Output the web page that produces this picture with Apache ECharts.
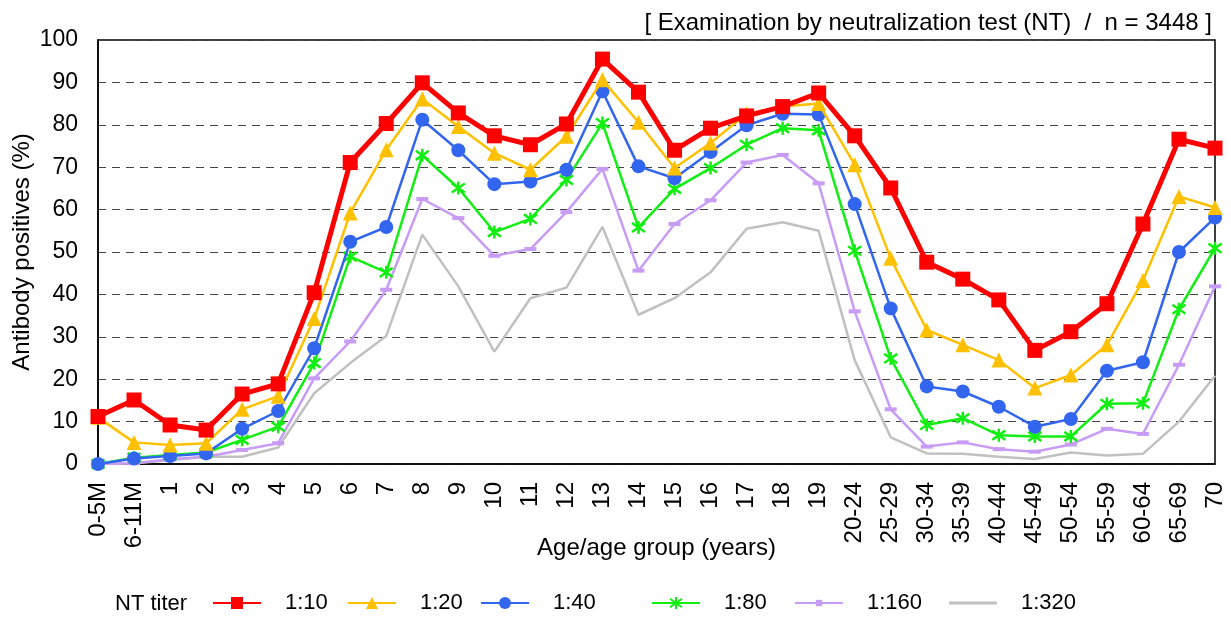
<!DOCTYPE html>
<html>
<head>
<meta charset="utf-8">
<script src="https://cdn.jsdelivr.net/npm/echarts@6/dist/echarts.min.js"></script>
<style>
html, body { margin: 0; padding: 0; background: #fff; }
#chart { width: 1231px; height: 622px; }
</style>
</head>
<body>
<div id="chart"></div>
<script>
var categorias = ['0-5M', '6-11M', '1', '2', '3', '4', '5', '6', '7', '8', '9', '10', '11', '12', '13', '14', '15', '16', '17', '18', '19',
    '20-24', '25-29', '30-34', '35-39', '40-44', '45-49', '50-54', '55-59', '60-64', '65-69', '70'];

var t10 = [11.2, 15.1, 9.2, 8.0, 16.5, 18.9, 40.4, 71.1, 80.3, 89.9, 82.8, 77.4, 75.3, 80.2, 95.5, 87.7, 74.0, 79.2, 82.1, 84.3, 87.5,
    77.4, 65.1, 47.6, 43.6, 38.7, 26.8, 31.2, 37.8, 56.6, 76.6, 74.5];
var t20 = [11.0, 5.1, 4.5, 4.9, 12.9, 16.0, 34.3, 59.2, 74.1, 86.1, 79.6, 73.3, 69.4, 77.3, 90.6, 80.6, 69.8, 75.7, 82.6, 84.3, 85.0,
    70.6, 48.5, 31.6, 28.1, 24.5, 17.9, 21.0, 28.1, 43.3, 63.1, 60.5];
var t40 = [0, 1.3, 1.9, 2.5, 8.3, 12.5, 27.3, 52.4, 55.9, 81.2, 74.0, 66.0, 66.6, 69.4, 87.9, 70.2, 67.4, 73.6, 79.9, 82.6, 82.4,
    61.3, 36.7, 18.3, 17.1, 13.5, 8.8, 10.6, 22.0, 24.0, 50.0, 58.1];
var t80 = [0, 1.5, 2.1, 2.7, 5.7, 8.8, 23.8, 48.9, 45.2, 72.8, 65.1, 54.7, 57.8, 67.0, 80.4, 55.8, 64.9, 69.8, 75.3, 79.2, 78.7,
    50.3, 24.9, 9.2, 10.8, 6.8, 6.5, 6.5, 14.2, 14.3, 36.5, 50.9];
var t160 = [0, 0.2, 1.1, 1.7, 3.3, 4.9, 20.2, 28.9, 41.1, 62.5, 58.0, 49.1, 50.7, 59.4, 69.6, 45.6, 56.6, 62.2, 71.1, 72.9, 66.2,
    36.0, 12.9, 4.1, 5.1, 3.5, 2.9, 4.6, 8.3, 7.1, 23.4, 41.9];
var t320 = [0, 0.2, 0.9, 1.7, 1.7, 3.9, 16.7, 23.8, 30.2, 54.1, 41.9, 26.5, 39.1, 41.6, 55.9, 35.2, 39.1, 45.2, 55.5, 57.0, 55.0,
    24.5, 6.3, 2.5, 2.4, 1.7, 1.2, 2.7, 2.0, 2.4, 10.0, 20.8];

var titulos = ['1:10', '1:20', '1:40', '1:80', '1:160', '1:320'];

var FUENTE = '"Liberation Sans", Arial, sans-serif';
var ASTERISCO = 'path://M0,-10 L0,10 M-7,-7 L7,7 M-7,7 L7,-7';

// posicion x de cada icono de la leyenda
var posLeyenda = [212, 347, 480, 651, 794, 949];

function serie(nombre, datos, color, ancho, simbolo, tam, extra) {
    var s = {
        name: nombre,
        type: 'line',
        data: datos,
        symbol: simbolo,
        symbolSize: tam,
        showSymbol: simbolo !== 'none',
        lineStyle: { color: color, width: ancho },
        itemStyle: { color: color },
        emphasis: { disabled: true },
        animation: false
    };
    if (extra) {
        for (var k in extra) s[k] = extra[k];
    }
    return s;
}

var leyendas = titulos.map(function (t, i) {
    var l = {
        left: posLeyenda[i],
        top: 592,
        padding: 0,
        itemWidth: 48,
        itemHeight: 15,
        selectedMode: false,
        textStyle: { fontFamily: FUENTE, fontSize: 22, color: '#000', padding: [0, 0, 0, 19] },
        data: [t]
    };
    if (t === '1:160') {
        l.itemHeight = 8;
    }
    if (t === '1:320') {
        l.data = [{ name: t, icon: 'rect' }];
        l.itemHeight = 3;
    }
    return l;
});

var grafico = echarts.init(document.getElementById('chart'));
grafico.setOption({
    backgroundColor: '#fff',
    textStyle: { fontFamily: FUENTE },
    title: {
        text: '[ Examination by neutralization test (NT)  /  n = 3448 ]',
        right: 14,
        top: 6,
        textStyle: { fontFamily: FUENTE, fontSize: 24, fontWeight: 'normal', color: '#000' }
    },
    graphic: [{
        type: 'text',
        left: 115,
        top: 593,
        style: { text: 'NT titer', fontFamily: FUENTE, fontSize: 22, fill: '#000' }
    }],
    legend: leyendas,
    grid: {
        left: 98,
        right: 16,
        top: 40,
        bottom: 158,
        outerBoundsMode: 'none',
        show: true,
        borderColor: '#000',
        borderWidth: 1.5
    },
    xAxis: {
        type: 'category',
        data: categorias,
        boundaryGap: false,
        name: 'Age/age group (years)',
        nameLocation: 'middle',
        nameGap: 72,
        nameMoveOverlap: false,
        nameTextStyle: { fontFamily: FUENTE, fontSize: 24, color: '#000' },
        axisLine: { lineStyle: { color: '#000', width: 1.5 } },
        axisTick: { show: false },
        axisLabel: { rotate: 90, fontSize: 24, color: '#000', margin: 18, interval: 0, fontFamily: FUENTE }
    },
    yAxis: {
        type: 'value',
        min: 0,
        max: 100,
        interval: 10,
        name: 'Antibody positives (%)',
        nameLocation: 'middle',
        nameGap: 64,
        nameMoveOverlap: false,
        nameTextStyle: { fontFamily: FUENTE, fontSize: 24, color: '#000' },
        axisLine: { show: true, lineStyle: { color: '#000', width: 1.5 } },
        axisTick: { show: false },
        axisLabel: { fontSize: 23, color: '#000', margin: 20, fontFamily: FUENTE },
        splitLine: { lineStyle: { color: '#444', type: [8, 6], width: 1 } }
    },
    series: [
        serie('1:320', t320, '#c0c0c0', 2.5, 'none', 0, { z: 1 }),
        serie('1:160', t160, '#c89cf5', 2.5, 'rect', [12, 4], { z: 2 }),
        serie('1:80', t80, '#11ee11', 2.5, ASTERISCO, 13, {
            z: 3,
            itemStyle: { color: 'none', borderColor: '#11ee11', borderWidth: 2.5 }
        }),
        serie('1:40', t40, '#3366ee', 2.5, 'circle', 14, { z: 4 }),
        serie('1:20', t20, '#ffc000', 2.5, 'triangle', 15, { z: 5 }),
        serie('1:10', t10, '#ff0000', 5, 'rect', 15, { z: 6 })
    ]
});
</script>
</body>
</html>
